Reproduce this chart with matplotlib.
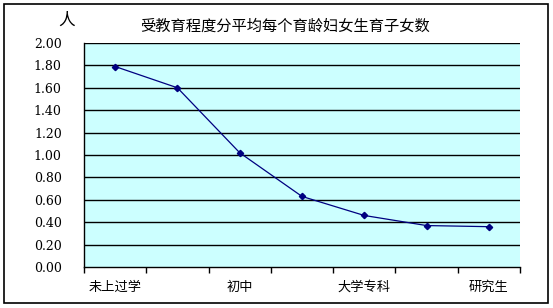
import matplotlib.pyplot as plt
import numpy as np
from matplotlib.patches import Rectangle

plt.rcParams['font.family'] = ['Noto Sans CJK SC', 'DejaVu Sans']

# education levels (only every other one is labelled on the axis)
categories = ['未上过学', '小学', '初中', '高中', '大学专科', '大学本科', '研究生']
shown_labels = ['未上过学', '', '初中', '', '大学专科', '', '研究生']
values = [1.79, 1.60, 1.02, 0.63, 0.46, 0.37, 0.36]
yticks = [0.0, 0.2, 0.4, 0.6, 0.8, 1.0, 1.2, 1.4, 1.6, 1.8, 2.0]

fig = plt.figure(figsize=(5.53, 3.08), dpi=100)
ax = fig.add_axes([84/553, 41/308, 436/553, 224/308])
ax.set_facecolor('#CCFFFF')

x = np.arange(len(categories))
ax.plot(x, values, color='#000080', lw=0.9, marker='D', ms=3.2, zorder=3)

ax.set_xlim(-0.5, len(categories) - 0.5)
ax.set_ylim(0, 2.0)
ax.set_yticks(yticks)
ax.set_yticklabels(['%.2f' % v for v in yticks], fontsize=9, family='DejaVu Serif')
ax.tick_params(axis='y', length=0, pad=16)
for v in yticks[1:]:
    ax.axhline(v, color='black', lw=1, zorder=1)

ax.set_xticks(x)
ax.set_xticklabels(shown_labels, fontsize=9.5)
ax.tick_params(axis='x', which='major', length=0, pad=10)
ax.set_xticks(np.arange(-0.5, len(categories)), minor=True)
ax.tick_params(axis='x', which='minor', length=4, width=1, color='black')

for s in ['left', 'bottom']:
    ax.spines[s].set_color('black')
    ax.spines[s].set_linewidth(1)
ax.spines['right'].set_visible(False)
ax.spines['top'].set_visible(False)

fig.text(0.515, 0.915, '受教育程度分平均每个育龄妇女生育子女数', ha='center', va='center', fontsize=11)
fig.text(0.12, 0.935, '人', ha='center', va='center', fontsize=12)

fig.patches.append(Rectangle((4/553, 5/308), 544/553, 299/308, transform=fig.transFigure,
                             fill=False, edgecolor='black', lw=1.2))

fig.savefig('out.png', dpi=100)
